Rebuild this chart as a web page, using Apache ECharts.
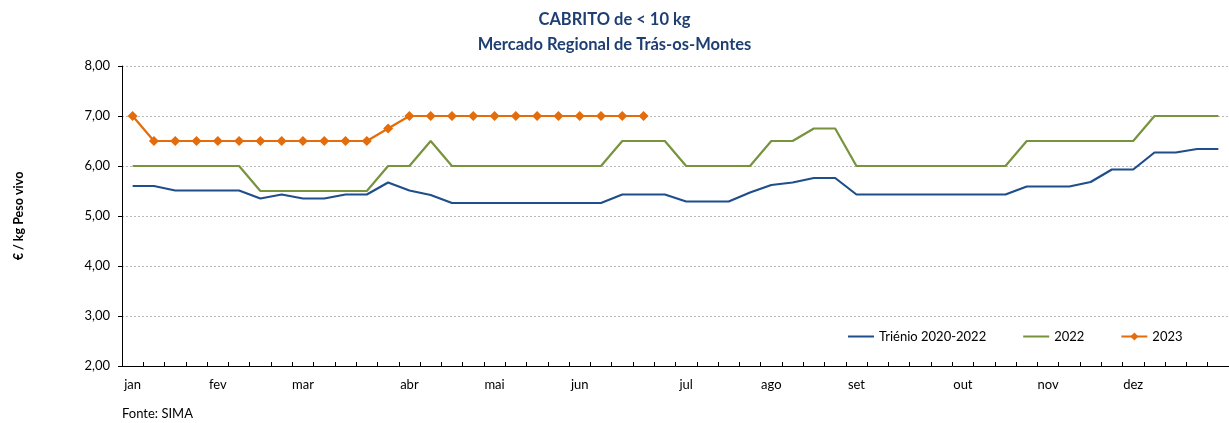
<!DOCTYPE html>
<html><head><meta charset="utf-8">
<script src="https://cdn.jsdelivr.net/npm/echarts@6/dist/echarts.min.js"></script>
<style>html,body{margin:0;padding:0;background:#fff}#c{width:1229px;height:423px}</style>
</head><body><div id="c"></div>
<script>
const weeks = Array.from({length:52},(_,i)=>'S'+(i+1));
const monthLabels = {0:'jan',4:'fev',8:'mar',13:'abr',17:'mai',21:'jun',26:'jul',30:'ago',34:'set',39:'out',43:'nov',47:'dez'};
const yTicks = [2,3,4,5,6,7,8];
const trienio = [5.60,5.60,5.51,5.51,5.51,5.51,5.35,5.43,5.35,5.35,5.43,5.43,5.67,5.51,5.42,5.26,5.26,5.26,5.26,5.26,5.26,5.26,5.26,5.43,5.43,5.43,5.29,5.29,5.29,5.47,5.62,5.67,5.76,5.76,5.43,5.43,5.43,5.43,5.43,5.43,5.43,5.43,5.59,5.59,5.59,5.68,5.93,5.93,6.27,6.27,6.34,6.34];
const y2022 = [6.0,6.0,6.0,6.0,6.0,6.0,5.5,5.5,5.5,5.5,5.5,5.5,6.0,6.0,6.5,6.0,6.0,6.0,6.0,6.0,6.0,6.0,6.0,6.5,6.5,6.5,6.0,6.0,6.0,6.0,6.5,6.5,6.75,6.75,6.0,6.0,6.0,6.0,6.0,6.0,6.0,6.0,6.5,6.5,6.5,6.5,6.5,6.5,7.0,7.0,7.0,7.0];
const y2023 = [7.0,6.5,6.5,6.5,6.5,6.5,6.5,6.5,6.5,6.5,6.5,6.5,6.75,7.0,7.0,7.0,7.0,7.0,7.0,7.0,7.0,7.0,7.0,7.0,7.0];

const FONT = 'Lato, "Open Sans", sans-serif';
const chart = echarts.init(document.getElementById('c'));
chart.setOption({
  animation:false,
  textStyle:{fontFamily:FONT},
  title:[
    {text:'CABRITO de < 10 kg', left:'center', top:6, textStyle:{fontSize:16.5, fontWeight:'bold', color:'#1F3F73', fontFamily:FONT}},
    {text:'Mercado Regional de Trás-os-Montes', left:'center', top:31, textStyle:{fontSize:16.5, fontWeight:'bold', color:'#1F3F73', fontFamily:FONT}},
    {text:'Fonte: SIMA', left:117, top:402, textStyle:{fontSize:13, fontWeight:'normal', color:'#000', fontFamily:FONT}}
  ],
  legend:{
    left:842, top:325, itemWidth:26, itemHeight:10, itemGap:36,
    textStyle:{fontSize:13, color:'#000', fontFamily:FONT},
    data:[
      {name:'Triénio 2020-2022', itemStyle:{opacity:0}},
      {name:'2022', itemStyle:{opacity:0}},
      {name:'2023'}
    ]
  },
  grid:{left:122, right:0, top:66, bottom:57, containLabel:false},
  xAxis:{
    type:'category', data:weeks, boundaryGap:true,
    axisLine:{lineStyle:{color:'#000', width:1}},
    axisTick:{show:true, interval:0, inside:true, length:4, lineStyle:{color:'#000'}},
    axisLabel:{interval:(i)=>monthLabels[i]!==undefined, formatter:(v,i)=>monthLabels[i]||'', fontSize:13, color:'#000', margin:12, fontFamily:FONT},
    splitLine:{show:false}
  },
  yAxis:{
    type:'value', min:yTicks[0], max:yTicks[yTicks.length-1], interval:1,
    name:'€ / kg Peso vivo', nameLocation:'middle', nameGap:97, nameRotate:90,
    nameTextStyle:{fontSize:12.5, fontWeight:'bold', color:'#000', fontFamily:FONT},
    axisLine:{show:true, lineStyle:{color:'#000'}},
    axisTick:{show:true, inside:false, length:4, lineStyle:{color:'#000'}},
    axisLabel:{formatter:v=>v.toFixed(2).replace('.',','), fontSize:13, color:'#000', margin:12, fontFamily:FONT},
    splitLine:{show:true, lineStyle:{color:'#b8b8b8', type:[2,2], width:1}}
  },
  series:[
    {name:'Triénio 2020-2022', type:'line', data:trienio, symbol:'none', lineStyle:{color:'#1F4E8C', width:2.2}, itemStyle:{color:'#1F4E8C'}},
    {name:'2022', type:'line', data:y2022, symbol:'none', lineStyle:{color:'#77933C', width:2.2}, itemStyle:{color:'#77933C'}},
    {name:'2023', type:'line', data:y2023, symbol:'diamond', symbolSize:10, lineStyle:{color:'#E46C0A', width:2.2}, itemStyle:{color:'#E46C0A'}}
  ]
});
</script></body></html>
